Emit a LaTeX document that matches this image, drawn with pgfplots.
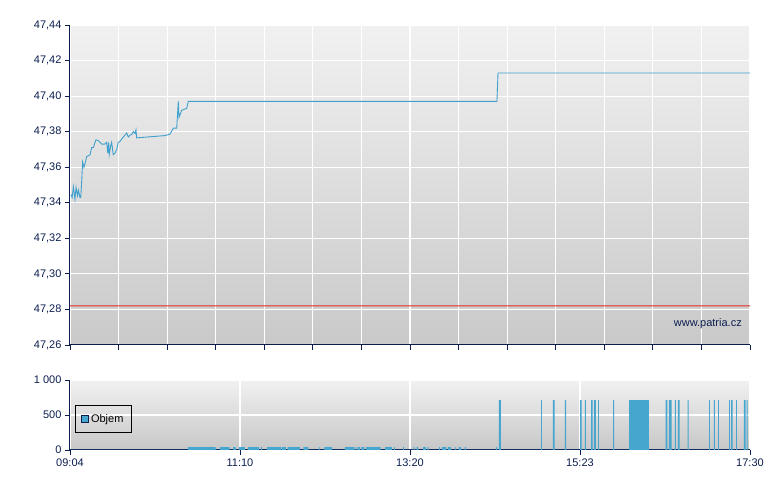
\documentclass[border=0pt]{standalone}
\usepackage{fontspec}
\setmainfont{Liberation Sans}
\usepackage{pgfplots}
\pgfplotsset{compat=1.18}
\definecolor{navy}{RGB}{12,30,80}
\definecolor{lineblue}{RGB}{64,160,205}
\definecolor{barblue}{RGB}{70,166,206}
\definecolor{refred}{RGB}{228,40,40}
\begin{document}
\begin{tikzpicture}
\pgfplotsset{common/.style={
  scale only axis, width=680pt, xmin=0, xmax=506,
  axis lines*=left, axis line style={navy, line width=1pt},
  tick style={navy, line width=0.8pt}, major tick length=5pt, tick align=outside,
  grid=major, grid style={white, line width=1.2pt},
  ticklabel style={font=\fontsize{11}{13}\selectfont, text=navy},
  /pgf/number format/assume math mode=true}}
% ---------- price panel ----------
\begin{axis}[common, name=top, at={(0pt,0pt)}, anchor=south west, height=320pt,
  ymin=47.26, ymax=47.44,
  ytick={47.26,47.28,47.30,47.32,47.34,47.36,47.38,47.40,47.42,47.44},
  y tick label style={/pgf/number format/.cd, fixed, fixed zerofill, precision=2, use comma},
  xtick={0,36.14,72.29,108.43,144.57,180.71,216.86,253,289.14,325.29,361.43,397.57,433.71,469.86,506},
  xticklabels={},
  axis background/.style={shade, top color={rgb,255:red,241;green,241;blue,241}, bottom color={rgb,255:red,201;green,201;blue,201}, draw=none}]
\addplot[color=lineblue, line width=0.9pt] coordinates {
(0.7,47.3447)(1.6,47.343)(2.5,47.349)(3.7,47.342)(4.5,47.3486)(5.6,47.344)(6.3,47.347)
(7.4,47.343)(8.0,47.343)(8.7,47.352)(9.4,47.363)(10.4,47.360)(11.2,47.362)(12.4,47.366)
(14.9,47.367)(16.1,47.371)(17.3,47.371)(19.3,47.3754)(21.1,47.375)(23.6,47.373)(26.0,47.373)
(27.3,47.374)(28.1,47.368)(28.8,47.374)(29.2,47.367)(30.3,47.372)(31.0,47.374)(32.2,47.367)
(33.5,47.368)(34.8,47.370)(35.9,47.374)(37.2,47.3746)(38.5,47.3758)(39.7,47.377)(40.9,47.378)
(42.2,47.3793)(43.4,47.377)(44.6,47.378)(45.9,47.3784)(47.1,47.380)(48.4,47.379)(49.1,47.381)
(49.6,47.3765)(70.7,47.3778)(74.4,47.3786)(76.9,47.382)(79.4,47.382)(80.6,47.397)(81.1,47.388)
(83.1,47.392)(85.6,47.3928)(86.8,47.393)(88.0,47.397)(317.7,47.397)(318.5,47.413)(506,47.413)};
\addplot[fill=refred, draw=none] coordinates {(0,47.2817)(506,47.2817)(506,47.2823)(0,47.2823)(0,47.2817)};
\node[text=navy, font=\fontsize{11}{13}\selectfont] at (rel axis cs:0.938,0.068) {www.patria.cz};
\end{axis}
% ---------- volume panel ----------
\begin{axis}[common, at={(top.south west)}, anchor=north west, yshift=-35pt, height=70pt,
  ymin=0, ymax=1000, ytick={0,500,1000},
  y tick label style={/pgf/number format/.cd, 1000 sep={\ }},
  xtick={0,126.5,253,379.5,506},
  xticklabels={09:04,11:10,13:20,15:23,17:30},
  axis background/.style={shade, top color={rgb,255:red,241;green,241;blue,241}, bottom color={rgb,255:red,199;green,199;blue,199}, draw=none},
  legend style={at={(0.0074,0.643)}, anchor=north west, draw=black, line width=0.8pt, fill=none,
    font=\fontsize{11}{13}\selectfont, inner xsep=6pt, inner ysep=7pt,
    /tikz/every even column/.append style={column sep=0pt}},
  legend image code/.code={\draw[fill=barblue, draw=navy, line width=0.6pt] (2pt,-3.5pt) rectangle (9pt,3.5pt);}]
\addplot[const plot, fill=barblue, draw=none] coordinates {
(0,0)
(87.8,40)(108.4,0)(111.6,40)(118.8,0)(121.3,40)(123.3,0)(125.8,40)(130.2,0)
(132.5,40)(140.6,0)(142.1,40)(142.8,0)(146.6,40)(157.0,0)(157.5,40)(160.7,0)
(162.0,40)(171.1,0)(173.6,40)(177.3,0)(185.1,40)(185.8,0)(189.2,40)(195.0,0)
(204.6,40)(211.6,0)(212.6,40)(213.3,0)(214.1,40)(215.8,0)(216.8,40)(219.0,0)
(220.3,40)(231.2,0)(234.4,40)(239.6,0)(241.1,40)(241.8,0)(247.8,40)(248.5,0)
(255.7,40)(256.5,0)(258.0,40)(259.0,0)(262.7,40)(264.9,0)(266.2,40)(266.9,0)
(274.6,40)(275.3,0)(276.8,40)(280.0,0)(281.1,40)(283.5,0)(286.3,40)(287.0,0)
(289.2,40)(290.9,0)(293.9,40)(294.6,0)(317.0,40)(317.7,0)
(319.2,714)(320.7,0)(350.5,714)(351.2,0)(359.4,714)(360.7,0)(368.3,714)(369.1,0)
(379.5,714)(380.8,0)(383.2,714)(383.9,0)(387.7,714)(388.9,0)(389.9,714)(391.4,0)
(392.9,714)(393.6,0)(404.1,714)(404.8,0)(416.0,714)(430.8,0)(443.3,714)(444.5,0)
(445.7,714)(447.7,0)(450.1,714)(450.9,0)(452.4,714)(453.7,0)(459.6,714)(460.4,0)
(475.5,714)(476.2,0)(479.2,714)(479.9,0)(482.2,714)(482.9,0)(490.4,714)(491.1,0)
(491.9,714)(493.0,0)(495.6,714)(496.3,0)(501.5,714)(502.8,0)(503.5,714)(504.3,0)
(506,0)} \closedcycle;
\addlegendentry{Objem}
\end{axis}
\path (top.south west) ++(-70pt,-145pt) rectangle ++(780pt,490pt);
\end{tikzpicture}
\end{document}
